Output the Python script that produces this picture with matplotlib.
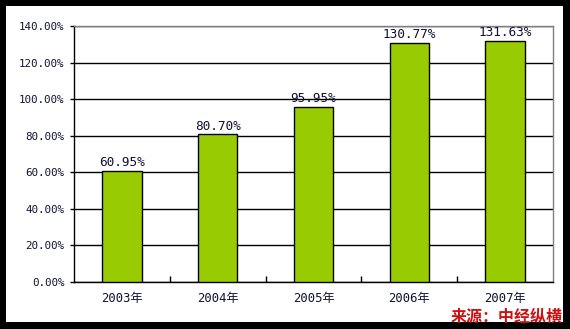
import matplotlib
matplotlib.use("Agg")
import matplotlib.pyplot as plt
from matplotlib.patches import Rectangle
from matplotlib.ticker import FuncFormatter, MultipleLocator
import numpy as np

years = ["2003年", "2004年", "2005年", "2006年", "2007年"]
values = [60.95, 80.70, 95.95, 130.77, 131.63]
labels = ["60.95%", "80.70%", "95.95%", "130.77%", "131.63%"]

plt.rcParams['font.family'] = ['DejaVu Sans Mono', 'Noto Sans CJK SC']

fig = plt.figure(figsize=(5.70, 3.29), dpi=100)
fig.patch.set_facecolor('black')
# white inner panel
fig.patches.append(Rectangle((6 / 570, 1 - 322 / 329), 557 / 570, 316 / 329,
                             transform=fig.transFigure, facecolor='white',
                             edgecolor='none', zorder=-5))

ax = fig.add_axes([74 / 570, 1 - 282 / 329, 479 / 570, 256 / 329])
ax.set_zorder(2)
ax.set_facecolor('white')
x = np.arange(len(years))
ax.bar(x, values, width=0.41, color='#99CC00', edgecolor='black', linewidth=1, zorder=3)
for xi, v, lab in zip(x, values, labels):
    ax.text(xi, v + 1.0, lab, ha='center', va='bottom', fontsize=9.2, color='#111133')

ax.set_xlim(-0.5, len(years) - 0.5)
ax.set_ylim(0, 140)
ax.yaxis.set_major_locator(MultipleLocator(20))
ax.yaxis.set_major_formatter(FuncFormatter(lambda v, p: f"{v:.2f}%"))
ax.grid(axis='y', color='black', linewidth=1, zorder=1)
ax.set_axisbelow(True)
ax.set_xticks(x)
ax.set_xticklabels(years)
ax.set_xticks(np.arange(0.5, len(years) - 1, 1), minor=True)
ax.tick_params(axis='x', which='major', length=0, pad=7, labelsize=8.8, labelcolor='#111133')
ax.tick_params(axis='x', which='minor', direction='in', length=4, width=1)
ax.tick_params(axis='y', length=3, width=1, pad=4, labelsize=7.8, labelcolor='#111133')

for s in ['top', 'right']:
    ax.spines[s].set_color('#808080')
for s in ['left', 'bottom']:
    ax.spines[s].set_color('black')
for s in ax.spines.values():
    s.set_linewidth(1)

fig.text(563 / 570, 1 - 317 / 329, "来源：中经纵横", ha='right', va='center',
         fontsize=11.5, fontweight='bold', color='#CC1111',
         family=['Noto Sans CJK SC', 'DejaVu Sans'], style='italic', zorder=5)

fig.savefig("out.png", dpi=100, facecolor=fig.get_facecolor())
